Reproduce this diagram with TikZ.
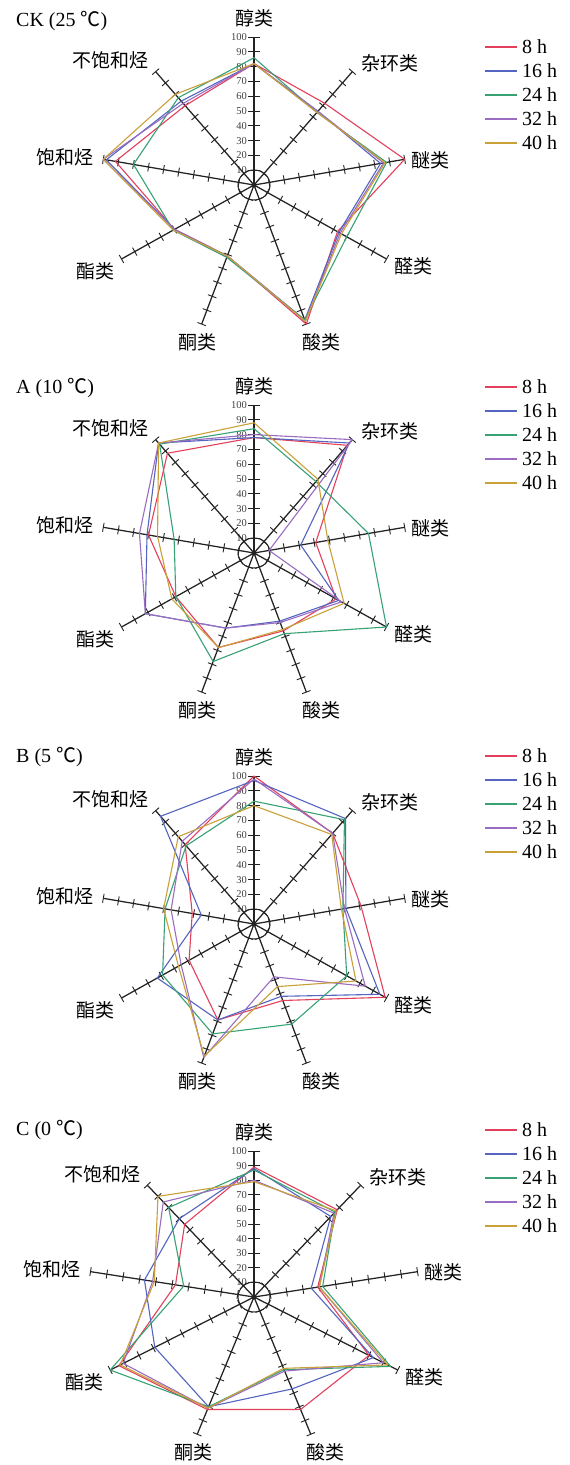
\documentclass[tikz,border=0pt]{standalone}
\usepackage{fontspec}
\setmainfont{Liberation Serif}
\newfontfamily\cjk{Noto Sans CJK SC}
\usetikzlibrary{calc}
\definecolor{c8}{RGB}{228,64,92}
\definecolor{c16}{RGB}{84,100,192}
\definecolor{c24}{RGB}{56,162,116}
\definecolor{c32}{RGB}{154,108,194}
\definecolor{c40}{RGB}{202,160,56}
\definecolor{axc}{RGB}{35,35,35}
\tikzset{
  axisline/.style={axc, line width=1.25pt},
  tickmark/.style={axc, line width=0.9pt},
  hubring/.style={axc, line width=1pt},
  series/.style={line width=1.1pt, line join=round},
  catlabel/.style={font=\cjk\fontsize{19}{19}\selectfont, inner sep=0pt},
  ticklab/.style={font=\fontsize{10.5}{10.5}\selectfont, text=black!75, inner sep=0pt, anchor=east},
  legtext/.style={font=\fontsize{20}{20}\selectfont, anchor=west, inner sep=0pt},
  charttitle/.style={font=\fontsize{20}{20}\selectfont, anchor=west, inner sep=0pt},
}
% #1 name, #2 cx, #3 cy, #4 Rh, #5 Rv
\newcommand\radarchart[5]{%
  \coordinate (#1) at (#2,#3);
  \foreach \k/\ang in {0/90,1/50,2/10,3/-30,4/-70,5/-110,6/-150,7/170,8/130} {
    \coordinate (#1a\k) at ($(#1)+({#4*cos(\ang)},{-#5*sin(\ang)})$);
    \draw[axisline] (#1) -- (#1a\k);
    \foreach \t in {1,...,10} {
      \coordinate (#1tk) at ($(#1)!\t/10!(#1a\k)$);
      \ifnum\k=0
        \draw[tickmark] ($(#1tk)!6pt!90:(#1)$) -- ($(#1tk)!6pt!-90:(#1)$);
        \pgfmathtruncatemacro\lab{\t*10}
        \node[ticklab] (#1n\t) at ($(#1tk)+(-7,0)$) {\lab};
      \else
        \draw[tickmark] ($(#1tk)!4.5pt!90:(#1)$) -- ($(#1tk)!4.5pt!-90:(#1)$);
      \fi
    }
  }
  \draw[hubring] (#1) ellipse [x radius=16, y radius=15];
  \fill[axc] (#1) circle (2.5);
  \node[catlabel, anchor=south] (#1l0) at ($(#1a0)+(0,-10)$) {醇类};
  \node[catlabel, anchor=west] (#1l1) at ($(#1a1)+(9,-8)$) {杂环类};
  \node[catlabel, anchor=west] (#1l2) at ($(#1a2)+(7,1)$) {醚类};
  \node[catlabel, anchor=west] (#1l3) at ($(#1a3)+(8,7)$) {醛类};
  \node[catlabel, anchor=north] (#1l4) at ($(#1a4)+(15,9)$) {酸类};
  \node[catlabel, anchor=north] (#1l5) at ($(#1a5)+(-4,9)$) {酮类};
  \node[catlabel, anchor=east] (#1l6) at ($(#1a6)+(-7,12)$) {酯类};
  \node[catlabel, anchor=east] (#1l7) at ($(#1a7)+(-10,-2)$) {饱和烃};
  \node[catlabel, anchor=east] (#1l8) at ($(#1a8)+(-7,-11)$) {不饱和烃};
}
% #1 chart, #2 colour, #3 values
\newcommand\dataline[3]{%
  \foreach \v [count=\i from 0] in {#3} {
    \coordinate (#1#2p\i) at ($(#1)!\v/100!(#1a\i)$);
  }
  \draw[series,#2] (#1#2p0) -- (#1#2p1) -- (#1#2p2) -- (#1#2p3) -- (#1#2p4)
     -- (#1#2p5) -- (#1#2p6) -- (#1#2p7) -- (#1#2p8) -- cycle;
}
% #1 chart, #2 top y
\newcommand\chartlegend[2]{%
  \foreach \c/\txt [count=\j from 0] in {c8/8 h,c16/16 h,c24/24 h,c32/32 h,c40/40 h} {
    \coordinate (#1g\j) at (485,{#2+24*\j});
    \coordinate (#1h\j) at (517,{#2+24*\j});
    \draw[series,\c] (#1g\j) -- (#1h\j);
    \node[legtext] (#1t\j) at (522,{#2+24*\j}) {\txt};
  }
}
\begin{document}
\begin{tikzpicture}[x=1pt,y=-1pt]
\fill[white] (0,0) rectangle (570,1465);
\useasboundingbox (0,0) rectangle (570,1465);

% ---------- CK ----------
\radarchart{A}{254}{185}{153}{148}
\node[charttitle] (At) at (16,21) {CK (25 {\cjk ℃})};
\chartlegend{A}{47}
\dataline{A}{c8}{82,72,100,63,100,51,60,92,70}
\dataline{A}{c16}{82,65,84,64,97,51,60,98,74}
\dataline{A}{c24}{86,64,88,70,97,52,61,80,77}
\dataline{A}{c32}{82,65,86,65,98,51,60,100,72}
\dataline{A}{c40}{82,64,87,66,98,51,61,100,80}

% ---------- A ----------
\radarchart{B}{254}{553}{153}{148}
\node[charttitle] (Bt) at (16,388) {A (10 {\cjk ℃})};
\chartlegend{B}{387}
\dataline{B}{c8}{78,95,41,62,56,68,59,70,88}
\dataline{B}{c16}{78,97,31,64,49,54,82,71,97}
\dataline{B}{c24}{84,63,76,100,58,78,59,53,96}
\dataline{B}{c32}{80,100,10,66,50,54,82,76,97}
\dataline{B}{c40}{88,65,49,68,55,68,62,64,97}

% ---------- B ----------
\radarchart{C}{254}{924}{153}{148}
\node[charttitle] (Ct) at (16,757) {B (5 {\cjk ℃})};
\chartlegend{C}{756}
\dataline{C}{c8}{100,80,71,99,55,69,49,41,70}
\dataline{C}{c16}{97,93,61,95,52,69,73,35,95}
\dataline{C}{c24}{83,92,59,70,72,79,69,59,69}
\dataline{C}{c32}{98,80,60,84,38,96,55,55,73}
\dataline{C}{c40}{80,79,58,77,45,95,57,60,77}

% ---------- C ----------
\radarchart{D}{254}{1297}{166}{146}
\node[charttitle] (Dt) at (16,1130) {C (0 {\cjk ℃})};
\chartlegend{D}{1130}
\dataline{D}{c8}{89,78,39,80,82,82,94,48,65}
\dataline{D}{c16}{88,72,35,83,67,80,69,67,70}
\dataline{D}{c24}{87,76,42,95,53,80,100,43,80}
\dataline{D}{c32}{80,75,40,90,54,81,91,62,85}
\dataline{D}{c40}{79,77,40,93,52,81,93,61,90}
\end{tikzpicture}
\end{document}
